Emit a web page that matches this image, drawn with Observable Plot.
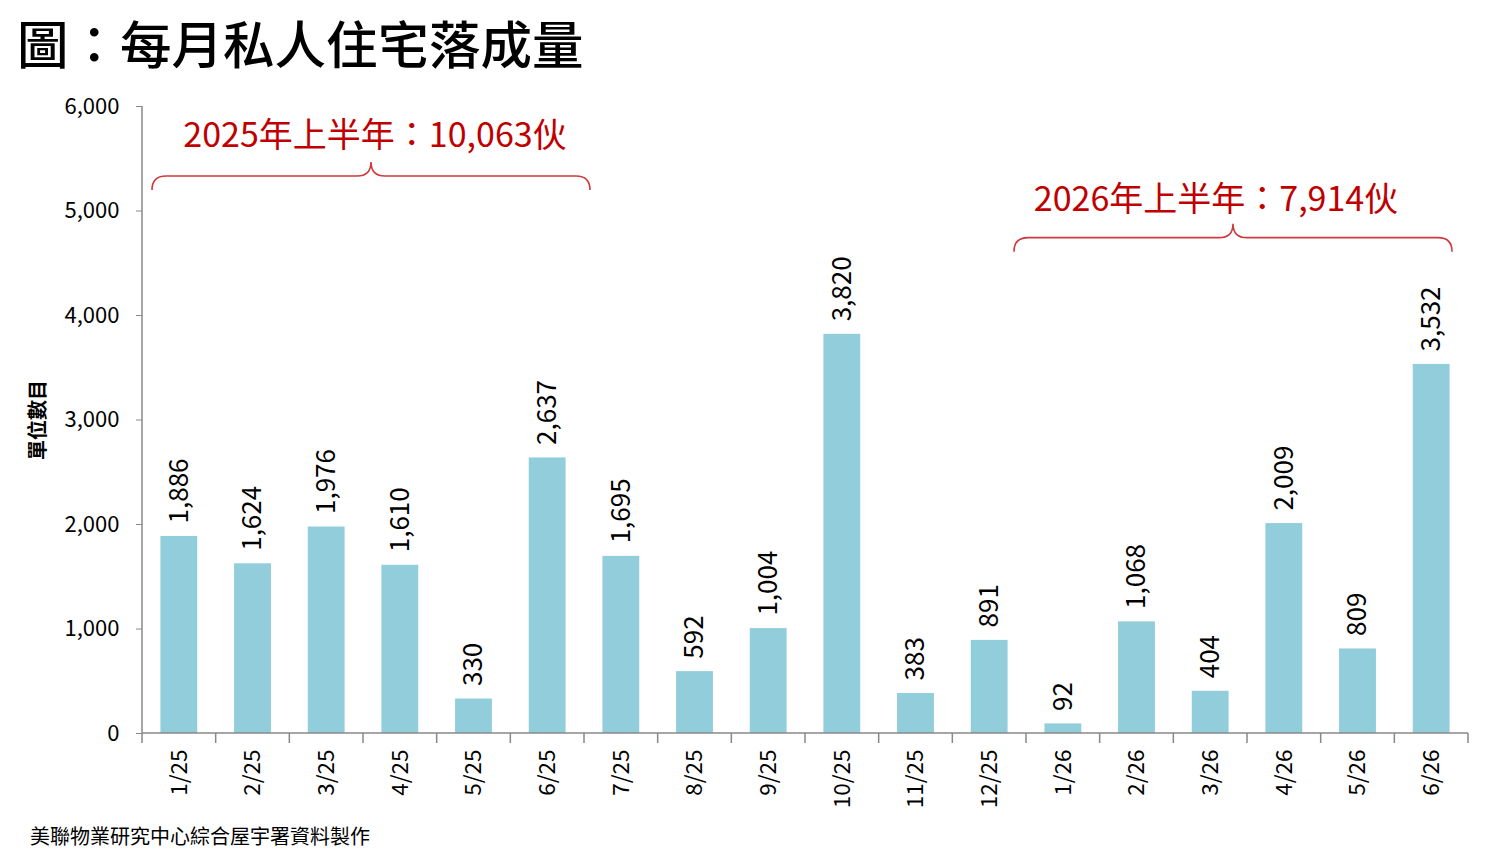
<!DOCTYPE html>
<html><head><meta charset="utf-8">
<script src="https://cdn.jsdelivr.net/npm/d3@7"></script>
<script src="https://cdn.jsdelivr.net/npm/@observablehq/plot@0.6"></script>
<style>
body{margin:0;background:#fff;font-family:"Noto Sans CJK TC","Noto Sans",sans-serif;}
#title{height:80px;font-size:51.5px;font-weight:500;line-height:84px;padding-left:17px;color:#000;white-space:nowrap;}
#caption{height:46px;font-size:20px;padding-left:30px;line-height:32px;color:#000;}
</style></head><body>
<div id="title">圖：每月私人住宅落成量</div>
<div id="chart"></div>
<div id="caption">美聯物業研究中心綜合屋宇署資料製作</div>
<script>
const months = ["1/25","2/25","3/25","4/25","5/25","6/25","7/25","8/25","9/25","10/25","11/25","12/25","1/26","2/26","3/26","4/26","5/26","6/26"];
const units = [1886,1624,1976,1610,330,2637,1695,592,1004,3820,383,891,92,1068,404,2009,809,3532];
const yTicks = [0,1000,2000,3000,4000,5000,6000];
const yLabel = "單位數目";
const halfLabels = ["2025年上半年：10,063伙","2026年上半年：7,914伙"];
const halfStart = ["1/25","1/26"];
const halfEnd = ["6/25","6/26"];
const braceLevel = [5330,4740];
const labelLevel = [5700,5080];

const data = months.map((m,i)=>({month:m, units:units[i]}));
const fmt = d3.format(",");
const font = "'Noto Sans CJK TC','Noto Sans',sans-serif";

const chart = Plot.plot({
  width:1500, height:740,
  marginTop:26, marginLeft:142, marginRight:32, marginBottom:87,
  style:{fontFamily:font, background:"white", color:"#000"},
  x:{domain:months, paddingInner:0.5, paddingOuter:0.25, round:false, label:null},
  y:{domain:[0,6000], label:null},
  marks:[
    Plot.barY(data,{x:"month",y:"units",fill:"#92CDDC"}),
    Plot.text(data,{x:"month",y:"units",text:d=>fmt(d.units),rotate:-90,textAnchor:"start",dy:-13,fontSize:26,fill:"#000"}),
    Plot.axisY({ticks:yTicks, tickFormat:d=>fmt(d), tickSize:6, tickPadding:17, fontSize:22, label:null, stroke:"#888"}),
    Plot.axisX({tickRotate:-90, tickSize:0, tickPadding:16, fontSize:22.5, label:null}),
    Plot.text([yLabel],{frameAnchor:"left", textAnchor:"middle", dx:-104, rotate:-90, fontSize:20, fontWeight:"bold", fill:"#000"})
  ]
});
document.getElementById("chart").appendChild(chart);

const x = chart.scale("x"), y = chart.scale("y");
const svg = d3.select(chart);
const r0 = x.range[0], r1 = x.range[1];
const step = x.step, bw = x.bandwidth;
const g = svg.append("g").attr("stroke","#888").attr("stroke-width",1.5);
g.append("line").attr("x1",r0).attr("x2",r0).attr("y1",y.apply(6000)).attr("y2",y.apply(0));
g.append("line").attr("x1",r0).attr("x2",r1).attr("y1",y.apply(0)).attr("y2",y.apply(0));
for(let i=0;i<=months.length;i++){
  const xx = r0 + i*step;
  g.append("line").attr("x1",xx).attr("x2",xx).attr("y1",y.apply(0)).attr("y2",y.apply(0)+10);
}
// braces (annotation nudges in pixels)
const braceNudge = [8,-14], textNudge = [12,-31];
halfLabels.forEach((lab,k)=>{
  const xs = x.apply(halfStart[k]) - (step-bw)/2;
  const xe = x.apply(halfEnd[k]) + bw + (step-bw)/2;
  const mid = (xs+xe)/2;
  const cx = mid + braceNudge[k], w = (xe-xs)/2 - 2;
  const x1 = cx-w, x2 = cx+w, yb = y.apply(braceLevel[k]), h = 14;
  const d = `M${x1},${yb+h} Q${x1},${yb} ${x1+h},${yb} L${cx-h},${yb} Q${cx},${yb} ${cx},${yb-h} Q${cx},${yb} ${cx+h},${yb} L${x2-h},${yb} Q${x2},${yb} ${x2},${yb+h}`;
  svg.append("path").attr("d",d).attr("fill","none").attr("stroke","#d0393b").attr("stroke-width",1.6);
  svg.append("text").attr("x",mid + textNudge[k]).attr("y",y.apply(labelLevel[k])).attr("text-anchor","middle")
    .attr("dominant-baseline","middle").attr("font-size",34).attr("fill","#c00000").attr("font-family",font).text(lab);
});
</script>
</body></html>
